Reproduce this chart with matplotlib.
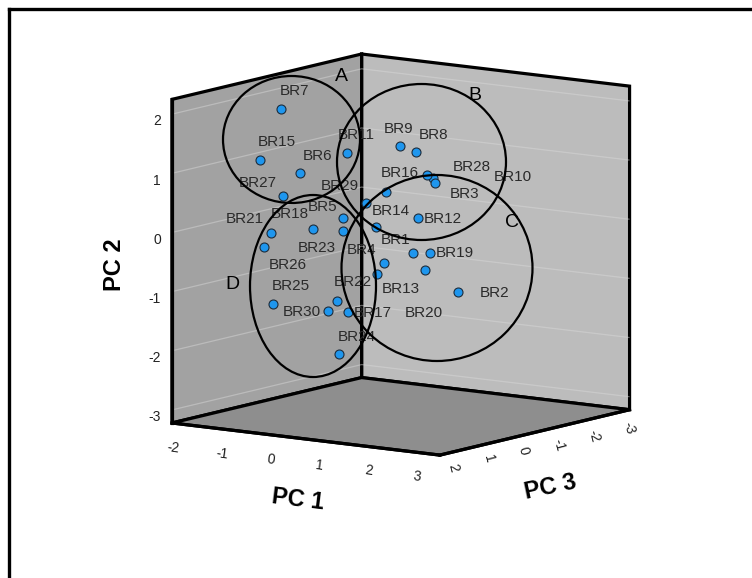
import numpy as np
import matplotlib
matplotlib.use('Agg')
import matplotlib.pyplot as plt
import matplotlib.transforms as mtransforms
from matplotlib.patches import Ellipse
from matplotlib.lines import Line2D
from mpl_toolkits.mplot3d import proj3d

plt.rcParams['font.family'] = ['Liberation Sans', 'DejaVu Sans']
plt.rcParams['axes.unicode_minus'] = False

# component scores per sample
names = ['BR1', 'BR2', 'BR3', 'BR4', 'BR5', 'BR6', 'BR7', 'BR8', 'BR9', 'BR10',
         'BR11', 'BR12', 'BR13', 'BR14', 'BR15', 'BR16', 'BR17', 'BR18', 'BR19', 'BR20',
         'BR21', 'BR22', 'BR23', 'BR24', 'BR25', 'BR26', 'BR27', 'BR28', 'BR29', 'BR30']
pc1 = [0.81, 1.50, 0.74, 0.57, -0.05, -0.59, -0.68, 0.51, -0.05, 0.27,
       -0.33, 0.75, 0.36, 0.12, -0.89, -0.05, 0.12, -0.45, 0.87, 0.98,
       -0.74, -0.03, -0.28, 0.30, -0.77, -1.10, -0.78, 0.29, -0.24, -0.07]
pc2 = [-0.43, -1.07, 0.65, -0.71, 0.19, 0.96, 2.09, 1.17, 1.17, 0.60,
       1.18, 0.13, -0.62, -0.04, 1.25, 0.46, -1.37, 0.01, -0.48, -0.72,
       0.03, -1.19, -0.09, -2.00, -1.20, -0.29, 0.58, 0.67, 0.29, -1.33]
pc3 = [-0.5, -0.8, -1.2, 0.2, 0.3, 0.8, 1.2, -1.0, -1.3, -1.8,
       -0.2, -0.7, -0.3, -0.4, 1.5, -0.9, 0.4, 0.6, -0.9, -0.6,
       1.4, 0.5, 0.0, 0.9, 1.3, 1.1, 1.0, -1.6, -0.6, 0.7]

pc1_ticks = [-2, -1, 0, 1, 2, 3]
pc2_ticks = [-3, -2, -1, 0, 1, 2]
pc3_ticks = [-3, -2, -1, 0, 1, 2]

# where each point label sits relative to its marker (pixels, right / down)
lab_dx = [-18, 37, 30, -16, -21, 18, 13, 17, -1, 80, 9, 25, 16, 15, 17,
          14, 25, -24, 24, -1, -26, 15, -26, 17, 18, 24, -25, 45, -26, -27]
lab_dy = [-13, 1, 11, -24, -11, -17, -18, -17, -17, -1, -18, 1, 26, -16, -18,
          -19, 1, -15, 0, 43, -14, -19, 17, -17, -18, 18, -13, -8, -17, 1]

# cluster outlines (pixel centre x, y, width, height)
groups = ['A', 'B', 'C', 'D']
ell = [(291.5, 139.5, 137, 127), (421.5, 162, 169, 156),
       (437, 268, 191, 186), (313, 286, 126, 182)]
group_txt = [(341.7, 76.7), (475, 95), (511.7, 222.7), (232.3, 284.3)]

W, H = 752, 578
fig = plt.figure(figsize=(W / 100, H / 100), dpi=100)
side = 500
ax = fig.add_axes([(W - side) / 2 / W, (H - side) / 2 / H, side / W, side / H],
                  projection='3d', proj_type='ortho')
ax.patch.set_visible(False)
ax.view_init(elev=9.75, azim=35.3)
ax.set_box_aspect((1, 1, 1))
# x = PC3, y = PC1, z = PC2
ax.set_xlim(-3.2, 2.2)
ax.set_ylim(-2.2, 3.3)
ax.set_zlim(-3.22, 2.25)
ax.set_xticks(pc3_ticks)
ax.set_yticks(pc1_ticks)
ax.set_zticks(pc2_ticks)

ax.xaxis.set_pane_color('#bcbcbc')
ax.yaxis.set_pane_color('#a2a2a2')
ax.zaxis.set_pane_color('#8e8e8e')
for a in (ax.xaxis, ax.yaxis, ax.zaxis):
    a.pane.set_closed(True)
    a.pane.set_edgecolor('black')
    a.pane.set_linewidth(2.3)
    a.line.set_color('black')
    a.line.set_linewidth(2.3)
    a._axinfo['tick']['inward_factor'] = 0
    a._axinfo['tick']['outward_factor'] = 0
for a in (ax.xaxis, ax.yaxis):
    a._axinfo['grid']['color'] = (1, 1, 1, 0)
    a.gridlines.set_color((1, 1, 1, 0))
grid_col = (0.86, 0.86, 0.86, 0.45)
ax.zaxis._axinfo['grid']['color'] = grid_col
ax.zaxis._axinfo['grid']['linewidth'] = 0.9
ax.zaxis.gridlines.set_color(grid_col)

ax.tick_params(axis='both', labelsize=10, colors='#222222')
ax.tick_params(axis='x', labelrotation=-75, pad=-3)
ax.tick_params(axis='y', labelrotation=-8, pad=1)
ax.tick_params(axis='z', pad=-3)
for t in ax.zaxis.get_ticklabels():
    t.set_horizontalalignment('right')

ax.scatter(pc3, pc1, pc2, s=42, c='#1e96ee', edgecolors='#1c2c3c',
           linewidths=0.8, depthshade=False, alpha=1)

# fit the drawn box onto the picture's box corners
fig.canvas.draw()
xl, yl, zl = ax.get_xlim(), ax.get_ylim(), ax.get_zlim()
cx = np.array([xl[1], xl[1], xl[0], xl[0], xl[1], xl[0]])
cy = np.array([yl[0], yl[1], yl[1], yl[0], yl[0], yl[1]])
cz = np.array([zl[0], zl[0], zl[0], zl[1], zl[1], zl[1]])
tgt = np.array([[172.7, 422.3], [440, 455.7], [630, 409.3],
                [360, 54], [171.7, 100], [630, 86]])
tgt[:, 1] = H - tgt[:, 1]
px, py, _ = proj3d.proj_transform(cx, cy, cz, ax.get_proj())
disp = ax.transData.transform(np.column_stack([px, py]))
dm, tm = disp.mean(0), tgt.mean(0)
s = ((disp - dm) * (tgt - tm)).sum() / ((disp - dm) ** 2).sum()
off = tm - s * dm
bb = ax.get_position().transformed(fig.transFigure)
ax.set_position([(s * bb.x0 + off[0]) / W, (s * bb.y0 + off[1]) / H,
                 s * bb.width / W, s * bb.height / H])

# nudge PC1 tick labels a little to the right
nudge = mtransforms.ScaledTranslation(0.08, 0, fig.dpi_scale_trans)
for tk in ax.yaxis.get_major_ticks():
    tk.label1.set_transform(ax.transData + nudge)

M = ax.get_proj()
for i, n in enumerate(names):
    x2, y2, _ = proj3d.proj_transform(pc3[i], pc1[i], pc2[i], M)
    ax.annotate(n, xy=(x2, y2), xytext=(lab_dx[i], -lab_dy[i]),
                textcoords='offset pixels', ha='center', va='center',
                fontsize=11, color='#2a2a2a')

for g, (ex, ey, ew, eh), (tx, ty) in zip(groups, ell, group_txt):
    fig.add_artist(Ellipse((ex / W, 1 - ey / H), ew / W, eh / H,
                           transform=fig.transFigure, fill=False,
                           edgecolor='black', linewidth=1.6))
    fig.text(tx / W, 1 - ty / H, g, fontsize=14, ha='center', va='center')

fig.text(298 / W, 1 - 500 / H, 'PC 1', fontsize=17, fontweight='bold',
         rotation=-7, ha='center', va='center')
fig.text(550 / W, 1 - 487 / H, 'PC 3', fontsize=17, fontweight='bold',
         rotation=12, ha='center', va='center')
fig.text(114 / W, 1 - 265 / H, 'PC 2', fontsize=17, fontweight='bold',
         rotation=90, ha='center', va='center')

# outer frame (left and top edges only)
fig.add_artist(Line2D([9 / W, 9 / W], [0, 1 - 9 / H], transform=fig.transFigure,
                      color='black', linewidth=2.4))
fig.add_artist(Line2D([9 / W, 1], [1 - 9 / H, 1 - 9 / H], transform=fig.transFigure,
                      color='black', linewidth=2.4))

fig.savefig('out.png', dpi=100)
